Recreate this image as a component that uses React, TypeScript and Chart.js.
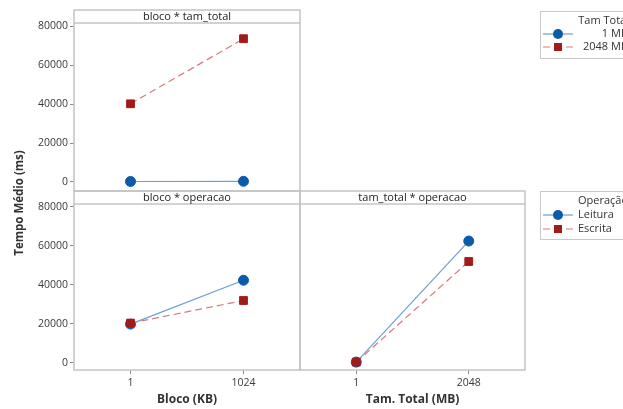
import React, { useEffect, useRef } from 'react';
import { Chart, registerables } from 'chart.js';
Chart.register(...registerables);

// ---- data ----
const blocoLabels = ['1', '1024'];
const tamLabels = ['1', '2048'];
const tamLegendTitle = 'Tam Total';
const tamLegend = ['1 MB', '2048 MB'];
const opLegendTitle = 'Operação';
const opLegend = ['Leitura', 'Escrita'];
const blocoTam1MB = [200, 300];
const blocoTam2048MB = [40200, 73700];
const blocoOpLeitura = [19800, 42300];
const blocoOpEscrita = [20300, 31900];
const tamOpLeitura = [300, 62400];
const tamOpEscrita = [300, 51900];
const yTicks = [0, 20000, 40000, 60000, 80000];

// ---- style ----
const FONT = '"Open Sans", "Noto Sans", sans-serif';
const BLUE = '#0b5aab';
const BLUE_LINE = '#6c9fd6';
const RED = '#a11b1b';
const RED_LINE = '#d67b7b';
const FRAME = '#c4c4c4';
const TEXT = '#3a3a3a';
const W = 623;
const H = 409;

const blueStyle = {
  order: 1,
  borderColor: BLUE_LINE,
  borderWidth: 1.2,
  pointStyle: 'circle',
  pointRadius: 5,
  pointBackgroundColor: BLUE,
  pointBorderColor: BLUE,
  pointBorderWidth: 1,
  fill: false,
  tension: 0,
};
const redStyle = {
  order: 0,
  borderColor: RED_LINE,
  borderWidth: 1.2,
  borderDash: [7, 4],
  pointStyle: 'rect',
  pointRadius: 5.5,
  pointBackgroundColor: RED,
  pointBorderColor: RED,
  pointBorderWidth: 1,
  fill: false,
  tension: 0,
};

const panelPlugin = (title: string, stripH: number) => ({
  id: 'panel',
  beforeDatasetsDraw(chart: any) {
    const { ctx, chartArea: a } = chart;
    ctx.save();
    ctx.strokeStyle = FRAME;
    ctx.lineWidth = 1.5;
    ctx.strokeRect(a.left, a.top - stripH, a.right - a.left, a.bottom - a.top + stripH);
    ctx.beginPath();
    ctx.moveTo(a.left, a.top);
    ctx.lineTo(a.right, a.top);
    ctx.stroke();
    ctx.fillStyle = '#222';
    ctx.font = `11px ${FONT}`;
    ctx.textAlign = 'center';
    ctx.textBaseline = 'middle';
    ctx.fillText(title, (a.left + a.right) / 2, a.top - stripH / 2);
    ctx.restore();
  },
});

function drawLegendRow(ctx: any, y: number, kind: 'blue' | 'red') {
  ctx.save();
  if (kind === 'blue') {
    ctx.strokeStyle = BLUE_LINE;
    ctx.lineWidth = 1.2;
    ctx.beginPath();
    ctx.moveTo(543, y);
    ctx.lineTo(573, y);
    ctx.stroke();
    ctx.fillStyle = BLUE;
    ctx.beginPath();
    ctx.arc(558, y, 5, 0, Math.PI * 2);
    ctx.fill();
  } else {
    ctx.strokeStyle = RED_LINE;
    ctx.lineWidth = 1.2;
    ctx.beginPath();
    ctx.moveTo(543, y);
    ctx.lineTo(550, y);
    ctx.moveTo(566, y);
    ctx.lineTo(573, y);
    ctx.stroke();
    ctx.fillStyle = RED;
    ctx.fillRect(554, y - 4, 8, 8);
  }
  ctx.restore();
}

const decorPlugin = {
  id: 'decor',
  afterDraw(chart: any) {
    const { ctx } = chart;
    ctx.save();
    ctx.translate(20, 203);
    ctx.rotate(-Math.PI / 2);
    ctx.fillStyle = '#333';
    ctx.font = `bold 11.5px ${FONT}`;
    ctx.textAlign = 'center';
    ctx.textBaseline = 'middle';
    ctx.fillText('Tempo Médio (ms)', 0, 0);
    ctx.restore();

    ctx.save();
    ctx.strokeStyle = '#c8c8c8';
    ctx.lineWidth = 1;
    ctx.strokeRect(540.5, 11.5, 100, 47);
    ctx.strokeRect(540.5, 191.5, 100, 48);
    ctx.fillStyle = '#333';
    ctx.font = `11px ${FONT}`;
    ctx.textBaseline = 'middle';
    ctx.textAlign = 'right';
    ctx.fillText(tamLegendTitle, 629, 21);
    ctx.fillText(tamLegend[0], 628, 34);
    ctx.fillText(tamLegend[1], 628, 47);
    ctx.textAlign = 'left';
    ctx.fillText(opLegendTitle, 578, 201);
    ctx.fillText(opLegend[0], 578, 215);
    ctx.fillText(opLegend[1], 578, 229);
    ctx.restore();
    drawLegendRow(ctx, 34, 'blue');
    drawLegendRow(ctx, 47, 'red');
    drawLegendRow(ctx, 215, 'blue');
    drawLegendRow(ctx, 229, 'red');
  },
};

function yAxis(min: number, max: number, show: boolean) {
  return {
    display: show,
    min,
    max,
    afterBuildTicks(scale: any) {
      scale.ticks = yTicks.map((v) => ({ value: v }));
    },
    ticks: {
      color: TEXT,
      font: { family: FONT, size: 10.5 },
      padding: 2,
      callback: (v: any) => String(v),
    },
    grid: { display: true, drawOnChartArea: false, drawTicks: true, tickLength: 4, color: '#888' },
    border: { display: false },
    afterFit(scale: any) {
      if (show) scale.width = 74;
    },
  };
}

function xAxis(labels: string[], title: string | null) {
  const show = title !== null;
  return {
    type: 'category',
    labels,
    offset: true,
    display: show,
    ticks: { color: TEXT, font: { family: FONT, size: 10.5 }, padding: 3, maxRotation: 0 },
    grid: { display: true, drawOnChartArea: false, drawTicks: true, tickLength: 4, color: '#888' },
    border: { display: false },
    title: {
      display: show,
      text: title || '',
      color: '#333',
      font: { family: FONT, size: 12, weight: 'bold' },
      padding: { top: 2, bottom: 2 },
    },
    afterFit(scale: any) {
      if (show) scale.height = 39;
    },
  };
}

function baseOptions(padding: any, x: any, y: any) {
  return {
    responsive: false,
    animation: false,
    devicePixelRatio: 1,
    layout: { padding },
    plugins: { legend: { display: false }, tooltip: { enabled: false } },
    scales: { x, y },
  };
}

export default function App() {
  const r1 = useRef<HTMLCanvasElement>(null);
  const r2 = useRef<HTMLCanvasElement>(null);
  const r3 = useRef<HTMLCanvasElement>(null);

  useEffect(() => {
    const c1 = new Chart(r1.current as any, {
      type: 'line',
      data: {
        labels: blocoLabels,
        datasets: [
          { label: tamLegend[0], data: blocoTam1MB, ...blueStyle } as any,
          { label: tamLegend[1], data: blocoTam2048MB, ...redStyle } as any,
        ],
      },
      options: baseOptions(
        { left: 0, top: 23, right: W - 300, bottom: H - 191 },
        xAxis(blocoLabels, null),
        yAxis(-4700, 81800, true)
      ) as any,
      plugins: [panelPlugin('bloco * tam_total', 13), decorPlugin],
    });
    const c2 = new Chart(r2.current as any, {
      type: 'line',
      data: {
        labels: blocoLabels,
        datasets: [
          { label: opLegend[0], data: blocoOpLeitura, ...blueStyle } as any,
          { label: opLegend[1], data: blocoOpEscrita, ...redStyle } as any,
        ],
      },
      options: baseOptions(
        { left: 0, top: 204, right: W - 300, bottom: 0 },
        xAxis(blocoLabels, 'Bloco (KB)'),
        yAxis(-3750, 81400, true)
      ) as any,
      plugins: [panelPlugin('bloco * operacao', 13)],
    });
    const c3 = new Chart(r3.current as any, {
      type: 'line',
      data: {
        labels: tamLabels,
        datasets: [
          { label: opLegend[0], data: tamOpLeitura, ...blueStyle } as any,
          { label: opLegend[1], data: tamOpEscrita, ...redStyle } as any,
        ],
      },
      options: baseOptions(
        { left: 300, top: 204, right: W - 525, bottom: 0 },
        xAxis(tamLabels, 'Tam. Total (MB)'),
        yAxis(-3750, 81400, false)
      ) as any,
      plugins: [panelPlugin('tam_total * operacao', 13)],
    });
    return () => {
      c1.destroy();
      c2.destroy();
      c3.destroy();
    };
  }, []);

  const cs: React.CSSProperties = { position: 'absolute', left: 0, top: 0, width: W, height: H };
  return (
    <div style={{ position: 'fixed', left: 0, top: 0, width: W, height: H, background: '#fff', overflow: 'hidden' }}>
      <canvas ref={r1} width={W} height={H} style={cs} />
      <canvas ref={r2} width={W} height={H} style={cs} />
      <canvas ref={r3} width={W} height={H} style={cs} />
    </div>
  );
}
